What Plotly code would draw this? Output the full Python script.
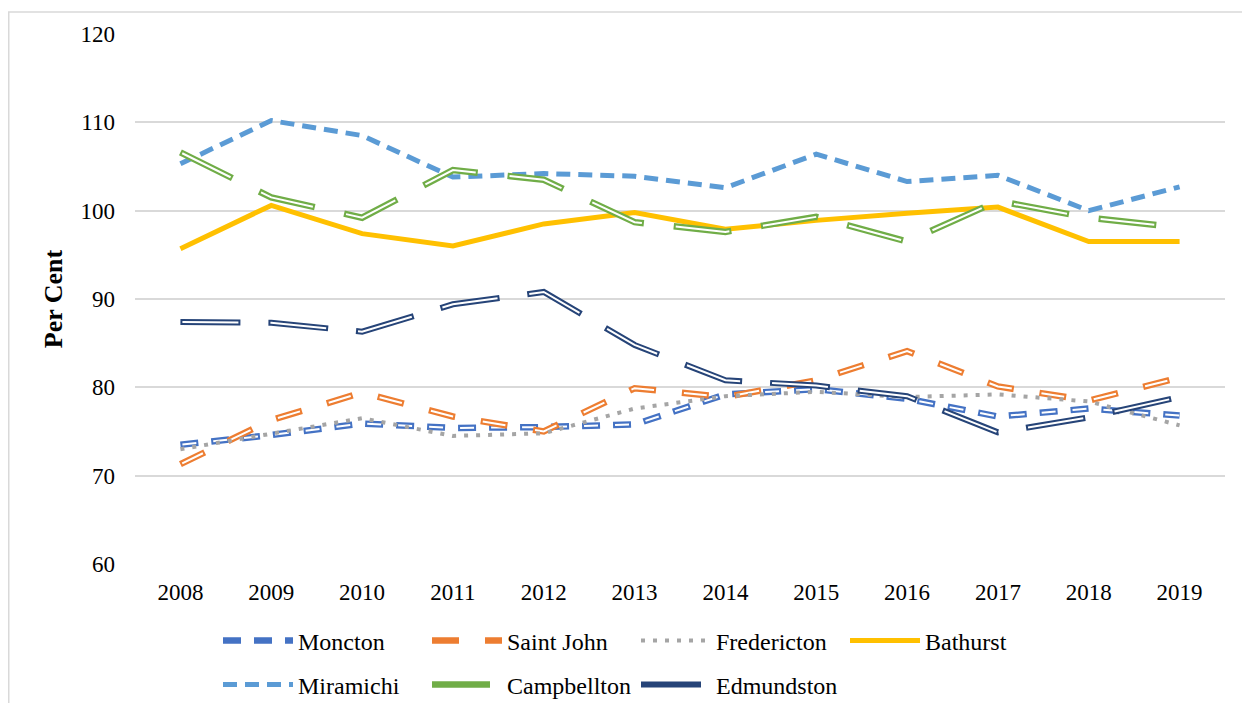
import plotly.graph_objects as go

years = ["2008", "2009", "2010", "2011", "2012", "2013", "2014", "2015", "2016", "2017", "2018", "2019"]
moncton = [73.5, 74.6, 75.9, 75.4, 75.5, 75.8, 79.2, 79.8, 78.7, 76.7, 77.6, 76.8]
saint_john = [71.3, 76.3, 79.4, 76.7, 75.0, 79.9, 78.9, 80.8, 84.1, 80.1, 78.5, 81.1]
fredericton = [73.0, 74.8, 76.5, 74.5, 74.8, 77.6, 79.0, 79.5, 78.9, 79.2, 78.4, 75.7]
bathurst = [95.7, 100.6, 97.4, 96.0, 98.5, 99.8, 97.9, 98.9, 99.7, 100.4, 96.5, 96.5]
miramichi = [105.3, 110.2, 108.5, 103.8, 104.2, 103.9, 102.6, 106.4, 103.3, 104.0, 100.0, 102.7]
campbellton = [106.6, 101.5, 99.2, 104.6, 103.5, 98.7, 97.6, 99.3, 96.5, 101.1, 99.2, 98.1]
edmundston = [87.4, 87.3, 86.3, 89.4, 90.8, 84.8, 80.8, 80.2, 79.0, 74.9, 76.6, 78.9]
y_ticks = [60, 70, 80, 90, 100, 110, 120]

FONT = "Liberation Serif, Times New Roman, serif"
# the page body has an 8px margin; figure is sized to fit the window
W, H = 1234, 695
L, T, PW, PH = 127, 26, 1090, 530
R = W - L - PW
B = H - T - PH

fig = go.Figure()


def double_line(name, values, color, width, dash_len, gap_len, legend):
    fig.add_trace(go.Scatter(
        x=years, y=values, name=name, mode="lines", legend=legend,
        line=dict(color=color, width=width, dash=f"{dash_len}px,{gap_len}px"),
        legendgroup=name,
    ))
    fig.add_trace(go.Scatter(
        x=years, y=values, name=name, mode="lines", showlegend=False,
        line=dict(color="white", width=2,
                  dash=f"0px,2px,{dash_len - 4}px,{gap_len + 2}px"),
        legendgroup=name, hoverinfo="skip",
    ))


double_line("Moncton", moncton, "#4472C4", 6.5, 18, 13, "legend")
double_line("Saint John", saint_john, "#ED7D31", 6.5, 27, 26, "legend")
fig.add_trace(go.Scatter(x=years, y=fredericton, name="Fredericton", mode="lines",
                         legend="legend",
                         line=dict(color="#A5A5A5", width=4, dash="4px,8px")))
fig.add_trace(go.Scatter(x=years, y=bathurst, name="Bathurst", mode="lines",
                         legend="legend",
                         line=dict(color="#FFC000", width=5)))
fig.add_trace(go.Scatter(x=years, y=miramichi, name="Miramichi", mode="lines",
                         legend="legend2",
                         line=dict(color="#5B9BD5", width=5, dash="14px,8px")))
double_line("Campbellton", campbellton, "#70AD47", 6.5, 58, 30, "legend2")
double_line("Edmundston", edmundston, "#264478", 6, 60, 28, "legend2")

# outer chart border (light grey, left and top)
bx = (0.75 - L) / PW
by = 1 + (T - 4) / PH
fig.add_shape(type="path", xref="paper", yref="paper",
              path=f"M {bx},{-0.4} L {bx},{by} L {1.05},{by}",
              line=dict(color="#D9D9D9", width=1.5), layer="below")

legend_common = dict(
    orientation="h", xref="container", yref="container",
    xanchor="left", yanchor="middle",
    font=dict(family=FONT, size=24, color="black"),
    itemwidth=70, entrywidthmode="pixels", entrywidth=124,
    bgcolor="rgba(0,0,0,0)", traceorder="normal",
    itemclick=False, itemdoubleclick=False,
)

fig.update_layout(
    width=W, height=H,
    margin=dict(l=L, r=R, t=T, b=B),
    paper_bgcolor="white", plot_bgcolor="white",
    font=dict(family=FONT, size=23, color="black"),
    showlegend=True,
    legend=dict(x=210 / W, y=1 - 633 / H, **legend_common),
    legend2=dict(x=210 / W, y=1 - 677 / H, **legend_common),
    xaxis=dict(type="category", showgrid=False, zeroline=False, showline=False,
               ticks="", tickfont=dict(family=FONT, size=23, color="black"),
               ticklabelstandoff=12, range=[-0.5, 11.5]),
    yaxis=dict(range=[60, 120], tickvals=y_ticks, showgrid=True,
               gridcolor="#D9D9D9", gridwidth=1.5, zeroline=False, showline=False,
               ticks="", tickfont=dict(family=FONT, size=23, color="black"),
               ticklabelstandoff=19,
               title=dict(text="<b>Per Cent</b>", standoff=10,
                          font=dict(family=FONT, size=26, color="black"))),
)

fig.write_html("out.html")
